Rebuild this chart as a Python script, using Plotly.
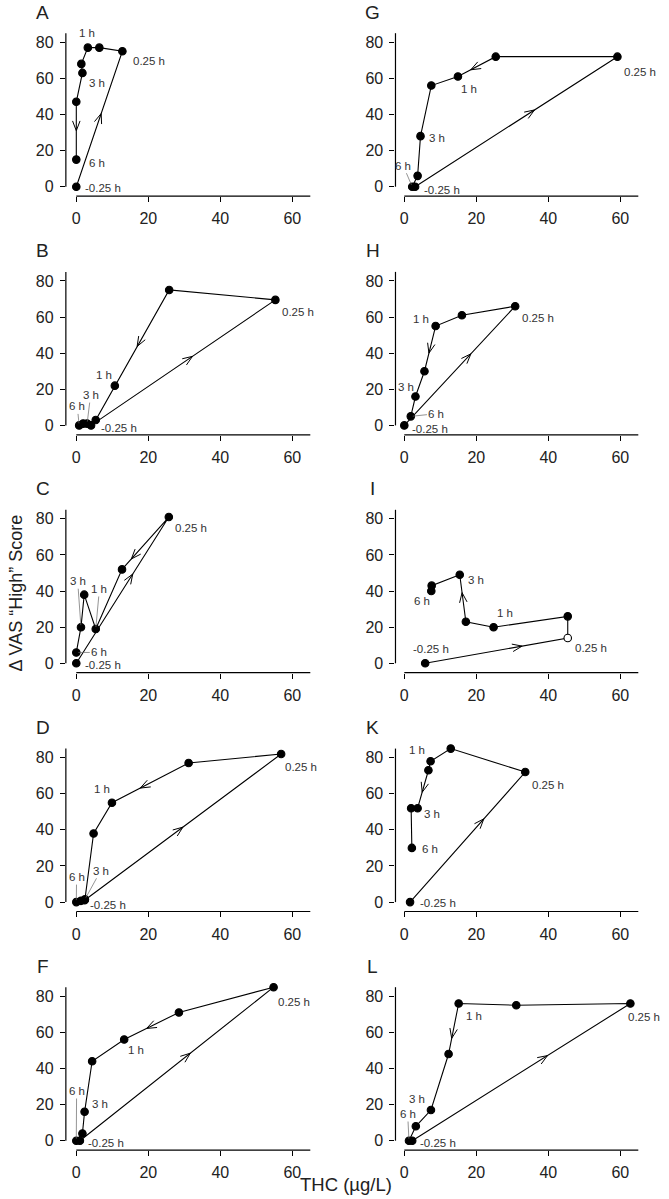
import math
import plotly.graph_objects as go

# ---------------- data: THC (µg/L) vs Δ VAS "High" score, in time order ----------------
times8 = [-0.25, 0.25, 0.5, 1, 2, 3, 4, 6]
times7 = [-0.25, 0.25, 0.5, 1, 2, 3, 6]

A_thc = [0.0, 12.8, 6.4, 3.2, 1.4, 1.7, 0.0, 0.0]
A_vas = [0, 75, 77, 77, 68, 63, 47, 15]
G_thc = [3.0, 59.2, 25.4, 14.9, 7.5, 4.5, 3.7, 2.2]
G_vas = [0, 72, 72, 61, 56, 28, 6, 0]
B_thc = [4.1, 55.3, 25.8, 10.7, 5.4, 3.0, 1.9, 0.8]
B_vas = [0, 69.5, 75, 22, 3, 1, 1, 0]
H_thc = [0.0, 30.8, 16.0, 8.7, 5.6, 3.1, 1.8]
H_vas = [0, 66, 61, 55, 30, 16, 5]
C_thc = [0.0, 25.7, 12.7, 5.4, 2.2, 1.3, 0.0]
C_vas = [0, 81, 52, 19, 38, 20, 6]
I_thc = [5.8, 45.4, 45.4, 24.8, 17.1, 15.4, 7.6, 7.5]
I_vas = [0, 14, 26, 20, 23, 49, 43, 40]
D_thc = [2.3, 56.9, 31.2, 9.9, 4.8, 2.4, 1.3, 0.0]
D_vas = [1, 82, 77, 55, 38, 1.5, 0.7, 0]
K_thc = [1.6, 33.6, 12.9, 7.3, 6.7, 3.7, 1.9, 2.1]
K_vas = [0, 72, 85, 78, 73, 52, 52, 30]
F_thc = [1.0, 54.8, 28.5, 13.3, 4.4, 2.3, 1.7, 0.0]
F_vas = [0, 85, 71, 56, 44, 16, 4, 0]
L_thc = [2.2, 62.8, 31.1, 15.1, 12.3, 7.4, 3.2, 1.3]
L_vas = [0, 76, 75, 76, 48, 17, 8, 0]

panels = {
    "A": (times8, A_thc, A_vas), "G": (times8, G_thc, G_vas),
    "B": (times8, B_thc, B_vas), "H": (times7, H_thc, H_vas),
    "C": (times7, C_thc, C_vas), "I": (times8, I_thc, I_vas),
    "D": (times8, D_thc, D_vas), "K": (times8, K_thc, K_vas),
    "F": (times8, F_thc, F_vas), "L": (times8, L_thc, L_vas),
}
order = ["A", "G", "B", "H", "C", "I", "D", "K", "F", "L"]
labelled_times = [-0.25, 0.25, 1, 3, 6]
x_ticks = [0, 20, 40, 60]
y_ticks = [0, 20, 40, 60, 80]

# ---------------- styling / placement (pixels) ----------------
# label offsets: time -> (dx, dy, leader)   (dy positive = downwards)
label_pos = {
    "A": {-0.25: (27, 1.7, 0), 0.25: (27, 9.3, 0), 1: (-0.7, -15, 0), 3: (14.3, 10.3, 0), 6: (20.3, 3.3, 0)},
    "G": {-0.25: (27.3, 3.3, 0), 0.25: (23, 15.7, 0), 1: (11.3, 12.7, 0), 3: (16, 2.3, 0), 6: (-9, -21, 1)},
    "B": {-0.25: (28, 3, 0), 0.25: (22.3, 11.7, 0), 1: (-11, -10.3, 0), 3: (3.5, -28.5, 1), 6: (-1.9, -19, 1)},
    "H": {-0.25: (25.7, 3.3, 0), 0.25: (23, 11.3, 0), 1: (-14.7, -7.3, 0), 3: (-9.7, -9.7, 0), 6: (25.7, -2.7, 1)},
    "C": {-0.25: (27, 2, 0), 0.25: (21.7, 11, 0), 1: (3.7, -40, 1), 3: (-3.3, -46, 1), 6: (23, 0, 1)},
    "I": {-0.25: (6.3, -14, 0), 0.25: (23, 9.7, 0), 1: (11.3, -13.7, 0), 3: (16.7, 5.3, 0), 6: (-9, 10.3, 0)},
    "D": {-0.25: (23.7, 4.8, 0), 0.25: (20, 13.3, 0), 1: (-10.3, -13.3, 0), 3: (15.7, -28.6, 1), 6: (0.3, -25, 1)},
    "K": {-0.25: (27.7, 1, 0), 0.25: (22.7, 13, 0), 1: (-14, -11.7, 0), 3: (14.7, 5.7, 0), 6: (18, 1, 0)},
    "F": {-0.25: (26, 2.3, 0), 0.25: (20.7, 14.7, 0), 1: (12.3, 10, 0), 3: (15.3, -8, 0), 6: (0.3, -49.7, 1)},
    "L": {-0.25: (26, 2.7, 0), 0.25: (13.3, 14, 0), 1: (15.3, 12.7, 0), 3: (-14.3, -10.7, 0), 6: (-1.3, -26.7, 1)},
}
# direction chevrons: (segment start index, fraction along segment)
chevrons = {
    "A": [(0, 0.54), (6, 0.5)], "G": [(0, 0.59), (2, 0.66)],
    "B": [(0, 0.55), (2, 0.59)], "H": [(0, 0.6), (3, 0.6)],
    "C": [(0, 0.61), (1, 0.8)], "I": [(0, 0.68), (4, 0.62)],
    "D": [(0, 0.5), (2, 0.63)], "K": [(0, 0.64), (4, 0.58)],
    "F": [(0, 0.57), (2, 0.59)], "L": [(0, 0.62), (3, 0.69)],
}
open_points = {"I": [1]}

W, H = 669, 1199
PXX, PXY = 3.6, 1.806
COL_ZERO = [76.3, 404.3]
COL_OFF = [2.9, 2.45]
ROW_ZERO = [186.7, 425.4, 663.3, 902.1, 1140.7]
XMAX, YMIN, YMAX = 66.0, -5.2, 88.0
XLINE_END, YLINE_END = 65.0, 85.0
LETTER_X = [42.5, 372.5]
LETTER_DY = -174.5
FONT = "Liberation Sans, Arial, Helvetica, sans-serif"
CHEV_LEN, CHEV_ANG = 10.5, math.radians(21)


def px(xp):
    return xp / W


def py(yp):
    return 1 - yp / H


fig = go.Figure()
layout = dict(
    width=W, height=H, margin=dict(l=0, r=0, t=0, b=0),
    paper_bgcolor="white", plot_bgcolor="white", showlegend=False,
    font=dict(family=FONT, color="#222"),
)
shapes, annotations = [], []

for i, name in enumerate(order):
    r, c = divmod(i, 2)
    n = i + 1
    xid = "x" if n == 1 else f"x{n}"
    yid = "y" if n == 1 else f"y{n}"
    x0p, y0p = COL_ZERO[c], ROW_ZERO[r]
    xmin = -COL_OFF[c]
    dom_x = [px(x0p + xmin * PXX), px(x0p + XMAX * PXX)]
    dom_y = [py(y0p - YMIN * PXY), py(y0p - YMAX * PXY)]
    axcommon = dict(showgrid=False, zeroline=False, showline=False, ticks="outside",
                    ticklen=5, tickwidth=1.1, tickcolor="black",
                    tickfont=dict(size=16, family=FONT, color="#222"), fixedrange=True)
    layout[f"xaxis{n}"] = dict(domain=dom_x, range=[xmin, XMAX], anchor=yid,
                               tickvals=x_ticks, ticklabelstandoff=3, **axcommon)
    layout[f"yaxis{n}"] = dict(domain=dom_y, range=[YMIN, YMAX], anchor=xid,
                               tickvals=y_ticks, ticklabelstandoff=3, **axcommon)
    # offset axis lines (R style)
    shapes.append(dict(type="line", xref="paper", yref="paper",
                       x0=px(x0p), x1=px(x0p + XLINE_END * PXX), y0=dom_y[0], y1=dom_y[0],
                       line=dict(color="black", width=1.2)))
    shapes.append(dict(type="line", xref="paper", yref="paper",
                       x0=dom_x[0], x1=dom_x[0], y0=py(y0p), y1=py(y0p - YLINE_END * PXY),
                       line=dict(color="black", width=1.2)))

    times, thc, vas = panels[name]
    opens = open_points.get(name, [])
    fig.add_trace(go.Scatter(
        x=thc, y=vas, xaxis=xid, yaxis=yid, mode="lines+markers",
        line=dict(color="black", width=1.1),
        marker=dict(size=7.5, color=["white" if k in opens else "black" for k in range(len(thc))],
                    line=dict(color="black", width=1.1)),
        cliponaxis=False, hoverinfo="skip"))

    # chevrons, computed in pixel space from the data points
    cx, cy = [], []
    for seg, frac in chevrons[name]:
        X1, Y1 = thc[seg] * PXX, -vas[seg] * PXY
        X2, Y2 = thc[seg + 1] * PXX, -vas[seg + 1] * PXY
        dx, dy = X2 - X1, Y2 - Y1
        L = math.hypot(dx, dy)
        ux, uy = dx / L, dy / L
        tx, ty = X1 + frac * dx, Y1 + frac * dy
        for s in (1, -1):
            a = s * CHEV_ANG
            rx = ux * math.cos(a) - uy * math.sin(a)
            ry = ux * math.sin(a) + uy * math.cos(a)
            cx += [(tx - CHEV_LEN * rx) / PXX, tx / PXX]
            cy += [-(ty - CHEV_LEN * ry) / PXY, -ty / PXY]
            cx.append(None)
            cy.append(None)
    fig.add_trace(go.Scatter(x=cx, y=cy, xaxis=xid, yaxis=yid, mode="lines",
                             line=dict(color="black", width=1.0), hoverinfo="skip",
                             cliponaxis=False))

    # time labels
    for t in labelled_times:
        if t not in times:
            continue
        k = times.index(t)
        dxp, dyp, leader = label_pos[name][t]
        txt = f"{t:g} h"
        if leader:
            annotations.append(dict(
                x=thc[k], y=vas[k], xref=xid, yref=yid, text=txt, showarrow=True,
                arrowhead=0, arrowwidth=0.7, arrowcolor="#666", ax=dxp, ay=dyp,
                standoff=2, font=dict(size=11.5, family=FONT, color="#333")))
        else:
            annotations.append(dict(
                x=thc[k], y=vas[k], xref=xid, yref=yid, text=txt, showarrow=False,
                xanchor="center", yanchor="middle",
                xshift=dxp, yshift=-dyp, font=dict(size=11.5, family=FONT, color="#333")))

    # panel letter
    annotations.append(dict(
        x=px(LETTER_X[c]), y=py(y0p + LETTER_DY), xref="paper", yref="paper",
        xanchor="center", yanchor="middle",
        text=name, showarrow=False, font=dict(size=19, family=FONT, color="#222")))

annotations.append(dict(x=px(15.5), y=py(593), xref="paper", yref="paper",
                        xanchor="center", yanchor="middle",
                        text="Δ VAS “High” Score", textangle=-90, showarrow=False,
                        font=dict(size=18, family=FONT, color="#222")))
annotations.append(dict(x=px(346), y=py(1184), xref="paper", yref="paper",
                        xanchor="center", yanchor="middle",
                        text="THC (µg/L)", showarrow=False,
                        font=dict(size=18.5, family=FONT, color="#222")))

layout["shapes"] = shapes
layout["annotations"] = annotations
fig.update_layout(**layout)
fig.write_html("out.html", config={"displayModeBar": False},
               post_script="document.body.style.margin='0px';document.body.style.padding='0px';")
